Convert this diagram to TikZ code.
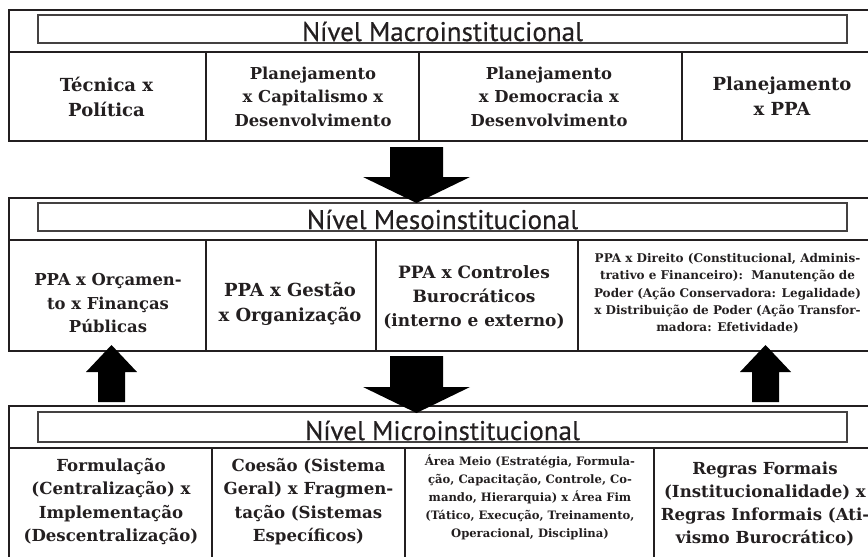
\documentclass[tikz,border=0pt]{standalone}
\usepackage{fontspec}
\setmainfont{DejaVu Serif}
\newfontfamily\titlefont[FakeBold=0.45]{PT Sans}
\definecolor{ink}{HTML}{231F20}
\tikzset{
  outerbox/.style={draw=ink, line width=2.8pt},
  titlebox/.style={draw=ink!85, line width=1.4pt},
  divider/.style={draw=ink, line width=2.4pt},
  leveltitle/.style={anchor=base, text=ink, inner sep=0pt, font=\titlefont\fontsize{27}{30}\selectfont},
  cell/.style={align=center, text=ink, inner sep=0pt},
  big/.style={cell, font=\bfseries\fontsize{18}{25}\selectfont},
  mid/.style={cell, font=\bfseries\fontsize{16.4}{23.5}\selectfont},
  small/.style={cell, font=\bfseries\fontsize{12}{17.2}\selectfont},
  blockarrow/.style={fill=black, draw=none},
}
\begin{document}
\begin{tikzpicture}[x=1pt,y=-1pt]
\useasboundingbox (0,0) rectangle (868,557);
\clip (0,0) rectangle (868,557);

% ---------------- Macro level
\draw[outerbox] (9,10) rectangle (885,141);
\draw[titlebox] (38,15) rectangle (847,43);
\node[leveltitle] (tmacro) at (442.5,41) {Nível Macroinstitucional};
\draw[divider] (9,52) -- (885,52);
\draw[divider] (206,52) -- (206,141);
\draw[divider] (419,52) -- (419,141);
\draw[divider] (682,52) -- (682,141);
\node[big] (ma1) at (106.5,97) {Técnica x\\Política};
\node[mid] (ma2) at (313,96.5) {Planejamento\\x Capitalismo x\\Desenvolvimento};
\node[mid] (ma3) at (549,96.5) {Planejamento\\x Democracia x\\Desenvolvimento};
\node[big] (ma4) at (782,96) {Planejamento\\x PPA};

% ---------------- Meso level
\draw[outerbox] (9,198) rectangle (885,351);
\draw[titlebox] (38,203) rectangle (847,231);
\node[leveltitle] (tmeso) at (442.5,229) {Nível Mesoinstitucional};
\draw[divider] (9,240) -- (885,240);
\draw[divider] (206,240) -- (206,351);
\draw[divider] (376,240) -- (376,351);
\draw[divider] (578,240) -- (578,351);
\node[mid] (me1) at (108,303.5) {PPA x Orçamen-\\to x Finanças\\Públicas};
\node[big] (me2) at (290,304) {PPA x Gestão\\x Organização};
\node[cell, font=\bfseries\fontsize{17}{24}\selectfont] (me3) at (474,297) {PPA x Controles\\Burocráticos\\(interno e externo)};
\node[small] (me4) at (727.5,293.5) {PPA x Direito (Constitucional, Adminis-\\trativo e Financeiro):\ \ Manutenção de\\Poder (Ação Conservadora: Legalidade)\\x Distribuição de Poder (Ação Transfor-\\madora: Efetividade)};

% ---------------- Micro level
\draw[outerbox] (9,406) rectangle (885,575);
\draw[titlebox] (38,412) rectangle (847,442);
\node[leveltitle] (tmicro) at (442.5,440) {Nível Microinstitucional};
\draw[divider] (9,448) -- (885,448);
\draw[divider] (212,448) -- (212,575);
\draw[divider] (405,448) -- (405,575);
\draw[divider] (654,448) -- (654,575);
\node[cell, font=\bfseries\fontsize{16.6}{23.3}\selectfont] (mi1) at (111,501.5) {Formulação\\(Centralização) x\\Implementação\\(Descentralização)};
\node[cell, font=\bfseries\fontsize{16.6}{23.3}\selectfont] (mi2) at (308.5,501.5) {Coesão (Sistema\\Geral) x Fragmen-\\tação (Sistemas\\Específicos)};
\node[small, font=\bfseries\fontsize{11.6}{18}\selectfont] (mi3) at (530,497) {Área Meio (Estratégia, Formula-\\ção, Capacitação, Controle, Co-\\mando, Hierarquia) x Área Fim\\(Tático, Execução, Treinamento,\\Operacional, Disciplina)};
\node[cell, font=\bfseries\fontsize{16.6}{23.3}\selectfont] (mi4) at (765,504) {Regras Formais\\(Institucionalidade) x\\Regras Informais (Ati-\\vismo Burocrático)};

% ---------------- Block arrows
\coordinate (d1) at (416.5,147);
\coordinate (d2) at (416.5,356);
\coordinate (u1) at (111.5,402);
\coordinate (u2) at (765.5,402);
\fill[blockarrow] (d1) ++(-26.5,0) -- ++(53,0) -- ++(0,30) -- ++(27,0) -- (416.5,203) -- (363,177) -- (390,177) -- cycle;
\fill[blockarrow] (d2) ++(-26.5,0) -- ++(53,0) -- ++(0,31) -- ++(27,0) -- (416.5,413) -- (363,387) -- (390,387) -- cycle;
\fill[blockarrow] (u1) ++(-13.5,0) -- ++(27,0) -- ++(0,-30) -- ++(12,0) -- (111.5,345) -- (86,372) -- (98,372) -- cycle;
\fill[blockarrow] (u2) ++(-13.5,0) -- ++(27,0) -- ++(0,-30) -- ++(12,0) -- (765.5,345) -- (740,372) -- (752,372) -- cycle;
\end{tikzpicture}
\end{document}
